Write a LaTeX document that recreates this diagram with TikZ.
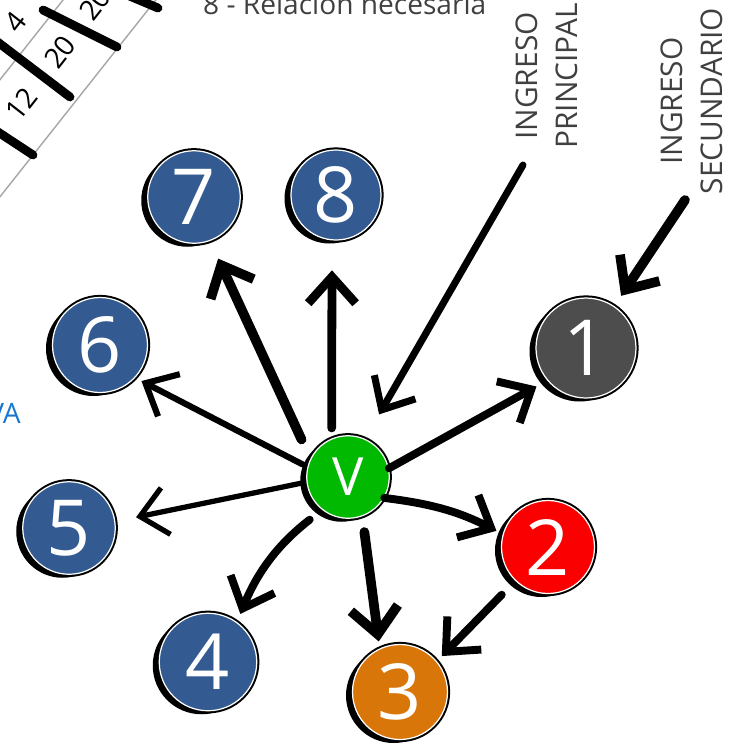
\documentclass[tikz,border=0pt]{standalone}
\usepackage{fontspec}
\setmainfont{Open Sans}
\usepackage{tikz}
\usetikzlibrary{arrows.meta, positioning}
\definecolor{azul}{RGB}{51,91,145}
\definecolor{gris}{RGB}{77,77,77}
\definecolor{rojo}{RGB}{250,0,0}
\definecolor{naranja}{RGB}{217,118,10}
\definecolor{verde}{RGB}{0,185,0}
\definecolor{texto}{RGB}{64,64,64}
\definecolor{celeste}{RGB}{25,120,205}

\begin{document}
\begin{tikzpicture}[
  nodo/.style={circle, minimum size=1.9cm, inner sep=0pt, text=white,
    font=\fontsize{44}{44}\selectfont, draw=white, line width=0.7pt,
    preaction={draw=black, line width=3pt},
    preaction={fill=black, transform canvas={shift={(-0.13,-0.07)}}}},
  arr/.style={-{Straight Barb[length=15pt, width=27pt]}, line width=4.5pt, line cap=round, line join=round},
  regla/.style={draw=gray!70, line width=0.8pt},
  raya/.style={line width=5pt, line cap=round},
  cifra/.style={rotate=52, font=\fontsize{16}{16}\selectfont}
]
\useasboundingbox (0,0) rectangle (14.86,-14.94);
\clip (0,0) rectangle (14.86,-14.94);

% regla de arriba
\draw[regla] (-0.4,-4.44) -- (3.4,0.36);
\draw[regla] (-0.4,-2.1) -- (1.6,0.43);
\draw[raya] (2.4,0.16) -- (3.16,-0.16);
\draw[raya] (0.86,-0.2) -- (2.34,-0.94);
\draw[raya] (-0.1,-0.8) -- (1.4,-1.94);
\draw[raya] (-0.1,-2.6) -- (0.66,-3.1);
\node[cifra] (c4) at (0.3,-0.44) {4};
\node[cifra] (c20a) at (1.2,-1.04) {20};
\node[cifra] (c12) at (0.42,-2.08) {12};
\node[cifra] (c20b) at (1.9,-0.08) {20};

\node[anchor=base west, text=texto, font=\fontsize{16}{16}\selectfont] (rel) at (3.94,-0.28) {8 - Relación necesaria};
\node[anchor=base east, text=celeste, font=\fontsize{16}{16}\selectfont] (va) at (0.54,-8.46) {VA};
\node[rotate=90, align=center, text=texto, font=\fontsize{17}{22.5}\selectfont] (ip) at (10.94,-1.52) {INGRESO\\PRINCIPAL};
\node[rotate=90, align=center, text=texto, font=\fontsize{17}{22.5}\selectfont] (is) at (13.84,-2.02) {INGRESO\\SECUNDARIO};
\coordinate (ipc) at (10.46,-3.3);
\coordinate (isc) at (13.7,-4.0);

\node[nodo, fill=verde, minimum size=1.65cm, font=\fontsize{30}{30}\selectfont] (V) at (6.96,-9.54) {V};
\node[nodo, fill=gris, minimum size=2cm] (n1) at (11.72,-6.96) {1};
\node[nodo, fill=rojo, minimum size=1.86cm] (n2) at (10.96,-10.94) {2};
\node[nodo, fill=naranja] (n3) at (8.0,-13.84) {3};
\node[nodo, fill=azul, minimum size=1.95cm] (n4) at (4.16,-13.24) {4};
\node[nodo, fill=azul, minimum size=1.85cm] (n5) at (1.38,-10.56) {5};
\node[nodo, fill=azul] (n6) at (2.0,-6.9) {6};
\node[nodo, fill=azul, minimum size=1.85cm] (n7) at (3.88,-3.94) {7};
\node[nodo, fill=azul, minimum size=1.8cm] (n8) at (6.72,-3.9) {8};

\draw[arr, shorten >=7pt] (V.12) -- (n1.220);
\draw[arr, shorten >=4pt] (V.-30) to[bend left=10] (n2.164);
\draw[arr, line width=5.5pt, shorten <=9pt, shorten >=4pt] (V.-70) -- (n3.115);
\draw[arr, shorten <=9pt, shorten >=5pt] (V.232) to[bend right=15] (n4.54);
\draw[arr, line width=3pt, shorten <=2pt, shorten >=12pt] (V.187) -- (n5.8);
\draw[arr, line width=3.5pt, shorten <=3pt, shorten >=4pt] (V.166) -- (n6.-43);
\draw[arr, line width=5.5pt, shorten <=12pt, shorten >=11pt] (V.154) -- (n7.-70);
\draw[arr, line width=5pt, shorten <=6pt, shorten >=17pt] (V.113) -- (n8.-95);
\draw[arr, shorten <=11pt, shorten >=4pt] (n2.226) -- (n3.40);
\draw[arr, line width=4pt, shorten >=16pt] (ipc) -- (V.66);
\draw[arr, line width=5.5pt, shorten >=7pt] (isc) -- (n1.56);
\end{tikzpicture}
\end{document}
